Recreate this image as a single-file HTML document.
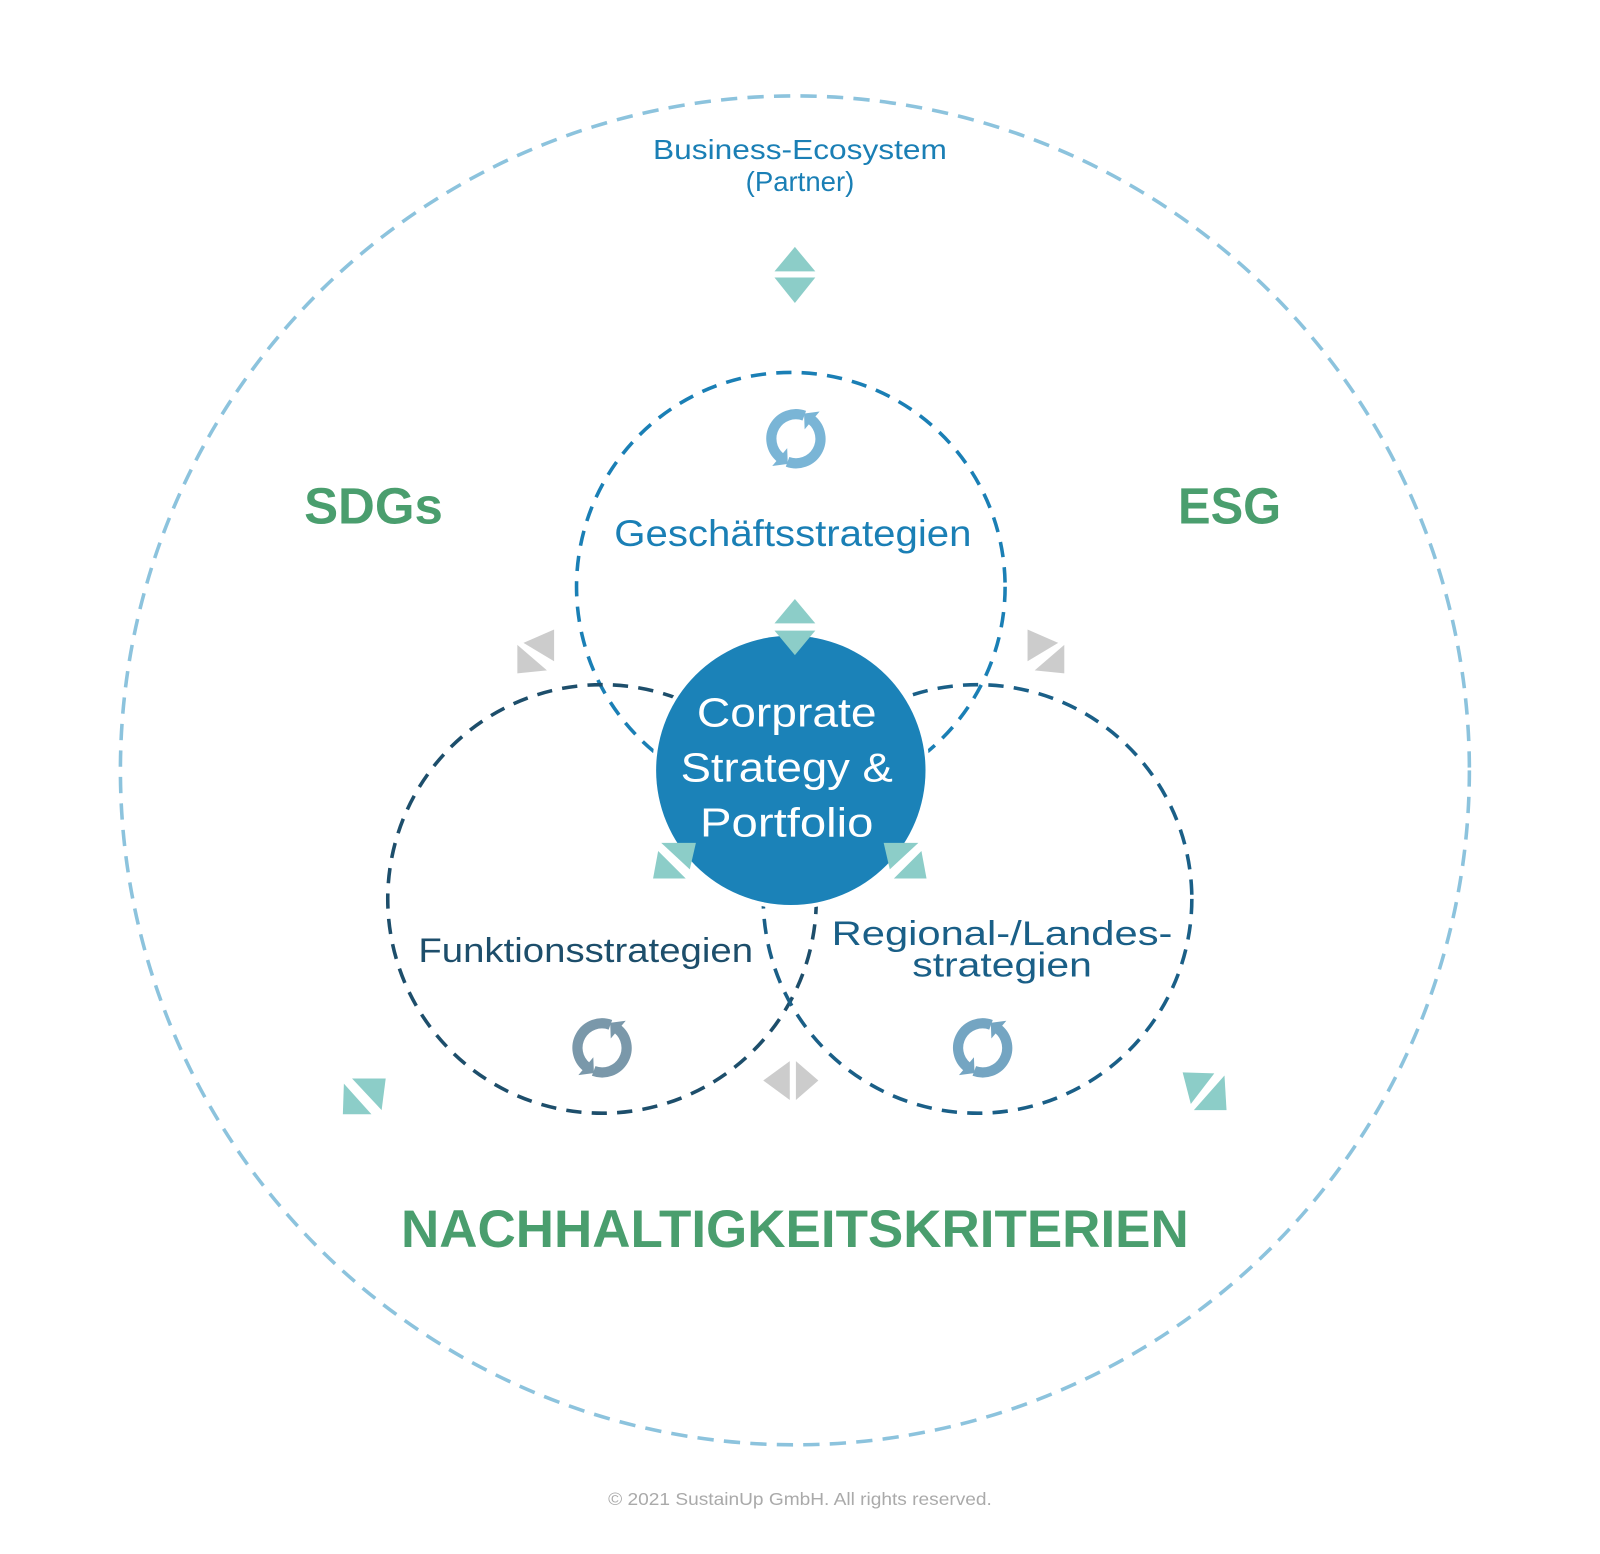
<!DOCTYPE html>
<html><head><meta charset="utf-8"><style>html,body{margin:0;padding:0;background:#fff}svg{display:block}</style></head>
<body>
<svg width="1600" height="1554" viewBox="0 0 1568 1523" preserveAspectRatio="none" xmlns="http://www.w3.org/2000/svg" font-family="Liberation Sans, sans-serif">
<defs>
<g id="ref">
<path d="M 8.2 -22.6 A 24 24 0 0 0 -15.4 18.4" fill="none" stroke-width="10"/>
<path d="M -8.2 22.6 A 24 24 0 0 0 15.4 -18.4" fill="none" stroke-width="10"/>
<polygon points="-8.5,24.2 -22,26 -9,10.5"/>
<polygon points="8.5,-24.2 22,-26 9,-10.5"/>
</g>
</defs>
<circle cx="779" cy="755" r="661" fill="none" stroke="#8cc3dd" stroke-width="3.5" stroke-dasharray="16 10"/>
<circle cx="775" cy="575" r="210" fill="none" stroke="#1a7fb5" stroke-width="3.5" stroke-dasharray="15 10"/>
<circle cx="590" cy="881" r="210" fill="none" stroke="#1d4e6b" stroke-width="3.5" stroke-dasharray="15 10"/>
<circle cx="958" cy="881" r="210" fill="none" stroke="#1a5f87" stroke-width="3.5" stroke-dasharray="15 10"/>
<circle cx="775" cy="755" r="136" fill="#fff"/>
<circle cx="775" cy="755" r="132" fill="#1b82b8"/>
<g fill="#8ccdc8">
<polygon points="779,242 799,266 759,266"/><polygon points="759,272 799,272 779,297"/>
<polygon points="779,587 799,611 759,611"/><polygon points="759,618 799,618 779,642"/>
<polygon points="648,826 682,826 676,852"/><polygon points="640,861 672,861 645,834"/>
<polygon points="900,826 866,826 872,852"/><polygon points="908,861 876,861 903,834"/>
<polygon points="345,1057 378,1057 374,1088"/><polygon points="337,1062 364,1092 336,1092"/>
<polygon points="1159,1051 1190,1052 1167,1082"/><polygon points="1200,1054 1202,1088 1170,1088"/>
</g>
<g fill="#cccccc">
<polygon points="513,630 543,617 543,648"/><polygon points="507,632 536,657 507,660"/>
<polygon points="1037,630 1007,617 1007,648"/><polygon points="1043,632 1014,657 1043,660"/>
<polygon points="774,1040 774,1078 748,1059"/><polygon points="780,1040 802,1059 780,1078"/>
</g>
<use href="#ref" x="780" y="430" fill="#7ab5d6" stroke="#7ab5d6"/>
<use href="#ref" x="590" y="1027" fill="#7a98aa" stroke="#7a98aa"/>
<use href="#ref" x="963" y="1027" fill="#74a5c2" stroke="#74a5c2"/>
<g text-anchor="middle">
<text x="784" y="156" font-size="27" fill="#1a7fb5" textLength="288" lengthAdjust="spacingAndGlyphs">Business-Ecosystem</text>
<text x="784" y="187" font-size="27" fill="#1a7fb5">(Partner)</text>
<text x="366" y="513" font-size="50" font-weight="bold" fill="#4a9e6e" textLength="136" lengthAdjust="spacingAndGlyphs">SDGs</text>
<text x="1205" y="513" font-size="50" font-weight="bold" fill="#4a9e6e" textLength="101" lengthAdjust="spacingAndGlyphs">ESG</text>
<text x="777" y="535" font-size="36" fill="#1a7fb5" textLength="350" lengthAdjust="spacingAndGlyphs">Geschäftsstrategien</text>
<text x="771" y="712" font-size="40" fill="#fff" textLength="176" lengthAdjust="spacingAndGlyphs">Corprate</text>
<text x="771" y="766" font-size="40" fill="#fff" textLength="208" lengthAdjust="spacingAndGlyphs">Strategy &amp;</text>
<text x="771" y="820" font-size="40" fill="#fff" textLength="170" lengthAdjust="spacingAndGlyphs">Portfolio</text>
<text x="574" y="943" font-size="34" fill="#1d4e6b" textLength="328" lengthAdjust="spacingAndGlyphs">Funktionsstrategien</text>
<text x="982" y="926" font-size="34" fill="#1a5f87" textLength="334" lengthAdjust="spacingAndGlyphs">Regional-/Landes-</text>
<text x="982" y="957" font-size="34" fill="#1a5f87" textLength="176" lengthAdjust="spacingAndGlyphs">strategien</text>
<text x="779" y="1222" font-size="52" font-weight="bold" fill="#4a9e6e" textLength="772" lengthAdjust="spacingAndGlyphs">NACHHALTIGKEITSKRITERIEN</text>
<text x="784" y="1475" font-size="17" fill="#aaaaaa" textLength="376" lengthAdjust="spacingAndGlyphs">© 2021 SustainUp GmbH. All rights reserved.</text>
</g>
</svg>
</body></html>
